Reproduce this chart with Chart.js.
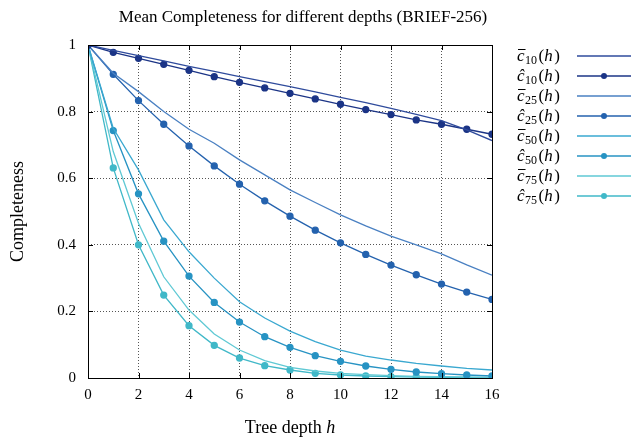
<!DOCTYPE html>
<html>
<head>
<meta charset="utf-8">
<script src="https://cdn.jsdelivr.net/npm/chart.js@4"></script>
<style>
  body { margin: 0; background: #fff; }
  #wrap { width: 631px; height: 439px; }
</style>
</head>
<body>
<div id="wrap"><canvas id="myChart" width="631" height="439"></canvas></div>
<script>
// tree depth h
var depths = [0, 1, 2, 3, 4, 5, 6, 7, 8, 9, 10, 11, 12, 13, 14, 15, 16];

// mean completeness
var cBar10 = [1, 0.984, 0.968, 0.952, 0.936, 0.921, 0.905, 0.890, 0.875, 0.859, 0.843, 0.827, 0.810, 0.792, 0.773, 0.745, 0.713];
var cHat10 = [1, 0.978, 0.960, 0.942, 0.924, 0.905, 0.888, 0.871, 0.855, 0.838, 0.822, 0.806, 0.791, 0.775, 0.762, 0.747, 0.732];
var cBar25 = [1, 0.915, 0.860, 0.800, 0.747, 0.705, 0.655, 0.610, 0.565, 0.527, 0.490, 0.457, 0.426, 0.400, 0.373, 0.340, 0.309];
var cHat25 = [1, 0.912, 0.833, 0.762, 0.697, 0.637, 0.582, 0.532, 0.486, 0.444, 0.406, 0.371, 0.339, 0.310, 0.282, 0.258, 0.236];
var cBar50 = [1, 0.750, 0.625, 0.475, 0.379, 0.300, 0.229, 0.180, 0.141, 0.109, 0.084, 0.066, 0.054, 0.044, 0.036, 0.029, 0.024];
var cHat50 = [1, 0.743, 0.553, 0.411, 0.306, 0.227, 0.168, 0.124, 0.092, 0.067, 0.050, 0.036, 0.026, 0.018, 0.013, 0.009, 0.006];
var cBar75 = [1, 0.680, 0.465, 0.304, 0.204, 0.132, 0.084, 0.052, 0.032, 0.021, 0.014, 0.010, 0.007, 0.005, 0.004, 0.003, 0.002];
var cHat75 = [1, 0.631, 0.400, 0.249, 0.157, 0.098, 0.060, 0.037, 0.024, 0.014, 0.009, 0.006, 0.004, 0.003, 0.002, 0.001, 0.001];

var xTicks = [0, 2, 4, 6, 8, 10, 12, 14, 16];
var yTicks = [0, 0.2, 0.4, 0.6, 0.8, 1];

var serif = '"Liberation Serif", "DejaVu Serif", serif';

// legend entries: kind ('bar' or 'hat') and subscript
var series = [
  { kind: 'bar', sub: '10', values: cBar10, color: '#2f4b9c' },
  { kind: 'hat', sub: '10', values: cHat10, color: '#1b3486' },
  { kind: 'bar', sub: '25', values: cBar25, color: '#4a80c2' },
  { kind: 'hat', sub: '25', values: cHat25, color: '#2462ae' },
  { kind: 'bar', sub: '50', values: cBar50, color: '#3aa8d0' },
  { kind: 'hat', sub: '50', values: cHat50, color: '#2793c3' },
  { kind: 'bar', sub: '75', values: cBar75, color: '#5fc9d4' },
  { kind: 'hat', sub: '75', values: cHat75, color: '#40b8c8' }
];

function points(vals) {
  return depths.map(function (d, i) { return { x: d, y: vals[i] }; });
}

var datasets = series.map(function (s) {
  return {
    label: s.kind + s.sub,
    data: points(s.values),
    borderColor: s.color,
    backgroundColor: s.color,
    borderWidth: 1.3,
    pointRadius: s.kind == 'hat' ? 3 : 0,
    pointHoverRadius: 0,
    tension: 0
  };
});

// frame, inward ticks, titles and the legend
var extras = {
  id: 'extras',
  afterDraw: function (chart) {
    var ctx = chart.ctx;
    var a = chart.chartArea;
    var xs = chart.scales.x, ys = chart.scales.y;
    ctx.save();
    ctx.strokeStyle = '#000';
    ctx.lineWidth = 1;
    ctx.strokeRect(a.left + 0.5, a.top + 0.5, a.right - a.left, a.bottom - a.top);
    xTicks.forEach(function (t) {
      var px = Math.round(xs.getPixelForValue(t)) + 0.5;
      ctx.beginPath();
      ctx.moveTo(px, a.bottom); ctx.lineTo(px, a.bottom - 5);
      ctx.moveTo(px, a.top); ctx.lineTo(px, a.top + 5);
      ctx.stroke();
    });
    yTicks.forEach(function (t) {
      var py = Math.round(ys.getPixelForValue(t)) + 0.5;
      ctx.beginPath();
      ctx.moveTo(a.left, py); ctx.lineTo(a.left + 5, py);
      ctx.moveTo(a.right, py); ctx.lineTo(a.right - 5, py);
      ctx.stroke();
    });

    // title
    ctx.fillStyle = '#000';
    ctx.font = '17px ' + serif;
    ctx.textAlign = 'center';
    ctx.textBaseline = 'alphabetic';
    ctx.fillText('Mean Completeness for different depths (BRIEF-256)', 303, 22);

    // x axis title, h in italics
    ctx.font = '18px ' + serif;
    ctx.textAlign = 'left';
    var t1 = 'Tree depth ';
    var w1 = ctx.measureText(t1).width;
    ctx.font = 'italic 18px ' + serif;
    var w2 = ctx.measureText('h').width;
    var x0 = (a.left + a.right) / 2 - (w1 + w2) / 2;
    ctx.font = '18px ' + serif;
    ctx.fillText(t1, x0, 433);
    ctx.font = 'italic 18px ' + serif;
    ctx.fillText('h', x0 + w1, 433);

    // y axis title
    ctx.save();
    ctx.translate(23, (a.top + a.bottom) / 2);
    ctx.rotate(-Math.PI / 2);
    ctx.textAlign = 'center';
    ctx.font = '18px ' + serif;
    ctx.fillText('Completeness', 0, 0);
    ctx.restore();

    // legend
    series.forEach(function (s, i) {
      var y = 56 + i * 20;
      var x = 517;
      ctx.textAlign = 'left';
      ctx.fillStyle = '#000';
      ctx.font = 'italic 17px ' + serif;
      var c = s.kind == 'hat' ? 'ĉ' : 'c';
      ctx.fillText(c, x, y + 5);
      var cw = ctx.measureText('c').width;
      if (s.kind == 'bar') {
        ctx.strokeStyle = '#000';
        ctx.lineWidth = 1;
        ctx.beginPath();
        ctx.moveTo(x + 1, y - 6.5); ctx.lineTo(x + cw + 1, y - 6.5);
        ctx.stroke();
      }
      x += cw + 0.5;
      ctx.font = '12px ' + serif;
      ctx.fillText(s.sub, x, y + 8);
      x += ctx.measureText(s.sub).width + 1.5;
      ctx.font = '17px ' + serif;
      ctx.fillText('(', x, y + 5);
      x += ctx.measureText('(').width;
      ctx.font = 'italic 17px ' + serif;
      ctx.fillText('h', x, y + 5);
      x += ctx.measureText('h').width + 1.5;
      ctx.font = '17px ' + serif;
      ctx.fillText(')', x, y + 5);

      ctx.strokeStyle = s.color;
      ctx.lineWidth = 1.3;
      ctx.beginPath();
      ctx.moveTo(577, y); ctx.lineTo(631, y);
      ctx.stroke();
      if (s.kind == 'hat') {
        ctx.fillStyle = s.color;
        ctx.beginPath();
        ctx.arc(604, y, 3, 0, Math.PI * 2);
        ctx.fill();
      }
    });
    ctx.restore();
  }
};

var ctx = document.getElementById('myChart');
var myChart = new Chart(ctx, {
  type: 'line',
  data: { datasets: datasets },
  plugins: [extras],
  options: {
    responsive: false,
    animation: false,
    layout: { padding: { left: 0, right: 139, top: 45, bottom: 0 } },
    plugins: { legend: { display: false }, tooltip: { enabled: false } },
    scales: {
      x: {
        type: 'linear',
        min: 0, max: 16,
        afterBuildTicks: function (scale) { scale.ticks = xTicks.map(function (v) { return { value: v }; }); },
        afterFit: function (scale) { scale.height = 61; },
        border: { display: false, dash: [1, 2] },
        grid: { color: '#555', drawTicks: false, lineWidth: 1 },
        ticks: { color: '#000', padding: 8, font: { family: serif, size: 15 }, maxRotation: 0 }
      },
      y: {
        min: 0, max: 1,
        afterBuildTicks: function (scale) { scale.ticks = yTicks.map(function (v) { return { value: v }; }); },
        afterFit: function (scale) { scale.width = 88; },
        border: { display: false, dash: [1, 2] },
        grid: { color: '#555', drawTicks: false, lineWidth: 1 },
        ticks: {
          color: '#000', padding: 12, font: { family: serif, size: 15 },
          callback: function (v) { return String(Math.round(v * 10) / 10); }
        }
      }
    }
  }
});
</script>
</body>
</html>
